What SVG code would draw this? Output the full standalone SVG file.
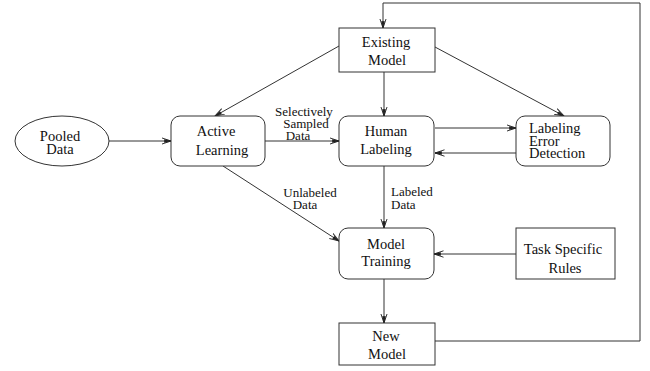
<svg xmlns="http://www.w3.org/2000/svg" width="650" height="371" viewBox="0 0 650 371">
<style>
  .box { fill: #fff; stroke: #333; stroke-width: 1; }
  .t { font-family: "Liberation Serif", "Times New Roman", serif; font-size: 14.5px; fill: #111; text-anchor: middle; }
  .lbl { font-family: "Liberation Serif", "Times New Roman", serif; font-size: 13px; fill: #111; text-anchor: middle; }
  .c { fill: none; stroke: #333; stroke-width: 1; marker-end: url(#arr); }
</style>
<defs>
  <marker id="arr" viewBox="0 0 10 8" refX="9.5" refY="4" markerWidth="10" markerHeight="8" markerUnits="userSpaceOnUse" orient="auto">
    <path d="M0,0.8 L9.5,4 L0,7.2" fill="none" stroke="#333" stroke-width="1"/>
    <path d="M3,4 L9.5,4 L3,2.6 L3,5.4 L9.5,4" fill="#222" stroke="#222" stroke-width="0.6"/>
  </marker>
</defs>
<rect width="650" height="371" fill="#fff"/>
<g id="connectors">
  <polyline class="c" points="435,341 640,341 640,3 383,3 383,28"/>
  <line class="c" x1="109" y1="141" x2="171" y2="141"/>
  <line class="c" x1="265" y1="141" x2="339" y2="141"/>
  <line class="c" x1="339" y1="46" x2="215" y2="116"/>
  <line class="c" x1="384" y1="72" x2="384" y2="116"/>
  <line class="c" x1="435" y1="47" x2="564" y2="116"/>
  <line class="c" x1="435" y1="128" x2="516" y2="128"/>
  <line class="c" x1="516" y1="153" x2="435" y2="153"/>
  <line class="c" x1="384" y1="166" x2="384" y2="228"/>
  <line class="c" x1="223" y1="166" x2="339" y2="241"/>
  <line class="c" x1="516" y1="254" x2="434" y2="254"/>
  <line class="c" x1="384" y1="279" x2="384" y2="323"/>
  <text class="lbl" x="304" y="116">Selectively</text>
  <text class="lbl" x="306" y="128">Sampled</text>
  <text class="lbl" x="298" y="140">Data</text>
  <text class="lbl" x="310" y="197">Unlabeled</text>
  <text class="lbl" x="305" y="209">Data</text>
  <text class="lbl" x="391" y="196" style="text-anchor:start">Labeled</text>
  <text class="lbl" x="391" y="209" style="text-anchor:start">Data</text>
</g>
<g id="existing-model">
  <rect class="box" x="339" y="28" width="96" height="44"/>
  <text class="t" x="386" y="47">Existing</text>
  <text class="t" x="387" y="65">Model</text>
</g>
<g id="pooled-data">
  <ellipse class="box" cx="62" cy="141" rx="47" ry="25"/>
  <text class="t" x="60" y="141">Pooled</text>
  <text class="t" x="60" y="154">Data</text>
</g>
<g id="active-learning">
  <rect class="box" x="171" y="116" width="94" height="50" rx="9"/>
  <text class="t" x="216" y="136">Active</text>
  <text class="t" x="222" y="155">Learning</text>
</g>
<g id="human-labeling">
  <rect class="box" x="339" y="116" width="95" height="50" rx="9"/>
  <text class="t" x="386" y="136">Human</text>
  <text class="t" x="386" y="154">Labeling</text>
</g>
<g id="labeling-error-detection">
  <rect class="box" x="516" y="116" width="94" height="50" rx="9"/>
  <text class="t" x="529" y="133" style="text-anchor:start">Labeling</text>
  <text class="t" x="529" y="145.5" style="text-anchor:start">Error</text>
  <text class="t" x="529" y="158" style="text-anchor:start">Detection</text>
</g>
<g id="model-training">
  <rect class="box" x="339" y="228" width="95" height="51" rx="9"/>
  <text class="t" x="386" y="249">Model</text>
  <text class="t" x="386" y="266">Training</text>
</g>
<g id="task-specific-rules">
  <rect class="box" x="516" y="228" width="99" height="51"/>
  <text class="t" x="563" y="254">Task Specific</text>
  <text class="t" x="565" y="273">Rules</text>
</g>
<g id="new-model">
  <rect class="box" x="339" y="323" width="96" height="42"/>
  <text class="t" x="386" y="341">New</text>
  <text class="t" x="387" y="359">Model</text>
</g>
</svg>
